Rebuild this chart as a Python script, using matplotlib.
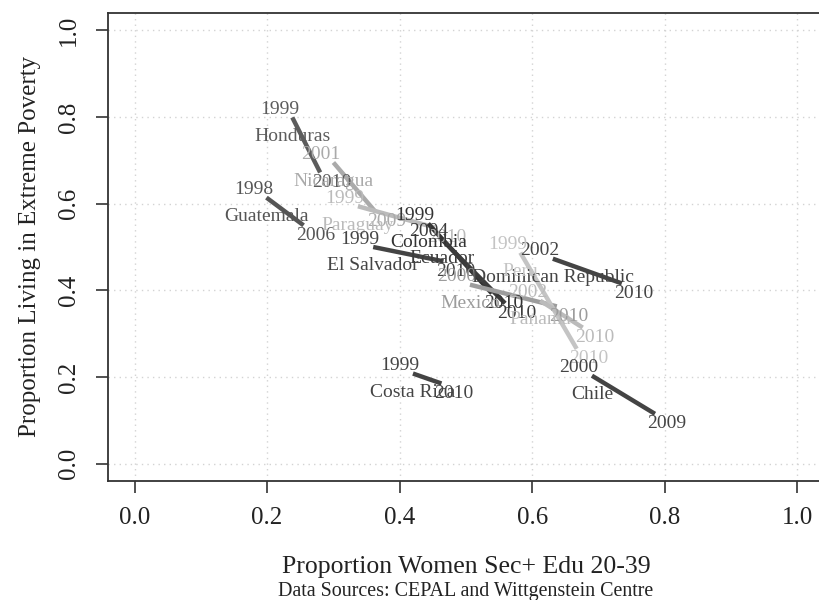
import matplotlib
matplotlib.use("Agg")
import matplotlib.pyplot as plt

# start / end points per country
countries = ["Honduras", "Guatemala", "Nicaragua", "Paraguay", "Colombia",
             "Ecuador", "El Salvador", "Mexico", "Dominican Republic", "Peru",
             "Panama", "Costa Rica", "Chile"]
year_start = [1999, 1998, 2001, 1999, 1999, 2004, 1999, 2000, 2002, 1999, 2002, 1999, 2000]
year_end = [2010, 2006, 2009, 2010, 2010, 2010, 2010, 2010, 2010, 2010, 2010, 2010, 2009]
x_start = [0.238, 0.199, 0.300, 0.337, 0.443, 0.464, 0.360, 0.506, 0.631, 0.582, 0.612, 0.420, 0.690]
y_start = [0.799, 0.614, 0.695, 0.594, 0.554, 0.517, 0.500, 0.413, 0.473, 0.487, 0.376, 0.208, 0.203]
x_end = [0.280, 0.255, 0.363, 0.453, 0.539, 0.559, 0.466, 0.637, 0.735, 0.667, 0.676, 0.463, 0.785]
y_end = [0.672, 0.550, 0.582, 0.545, 0.393, 0.370, 0.467, 0.363, 0.416, 0.265, 0.314, 0.185, 0.115]
shades = ["#5c5c5c", "#555555", "#aaaaaa", "#bbbbbb", "#333333",
          "#3c3c3c", "#444444", "#9c9c9c", "#444444", "#c4c4c4",
          "#bbbbbb", "#444444", "#444444"]

plt.rcParams['font.family'] = ['Liberation Serif', 'DejaVu Serif']

fig = plt.figure(figsize=(8.19, 6.0), dpi=100)
ax = fig.add_axes([108 / 819, 1 - 481 / 600, 716 / 819, 468 / 600])

for i in range(len(countries)):
    c = shades[i]
    ax.plot([x_start[i], x_end[i]], [y_start[i], y_end[i]], color=c, lw=3.2,
            solid_capstyle='butt', zorder=2)
    ax.annotate(str(year_start[i]), (x_start[i], y_start[i]), xytext=(-13, 8),
                textcoords='offset pixels', ha='center', va='center',
                fontsize=14, color=c, zorder=3)
    ax.annotate(countries[i], (x_start[i], y_start[i]), xytext=(0, -19),
                textcoords='offset pixels', ha='center', va='center',
                fontsize=14, color=c, zorder=3)
    ax.annotate(str(year_end[i]), (x_end[i], y_end[i]), xytext=(12, -10),
                textcoords='offset pixels', ha='center', va='center',
                fontsize=14, color=c, zorder=3)

ticks = [0.0, 0.2, 0.4, 0.6, 0.8, 1.0]
ax.set_xlim(-0.04, 1.04)
ax.set_ylim(-0.04, 1.04)
ax.set_xticks(ticks)
ax.set_yticks(ticks)
ax.set_xticklabels(["%.1f" % t for t in ticks])
ax.set_yticklabels(["%.1f" % t for t in ticks], rotation=90, va='center')
ax.grid(True, color='#d3d3d3', linestyle=(0, (1, 3)), lw=1)
ax.set_axisbelow(True)
ax.tick_params(direction='out', length=8.5, width=1.2, color='#333333',
               labelsize=18, labelcolor='#222222')
ax.tick_params(axis='x', pad=10)
ax.tick_params(axis='y', pad=12)
for s in ax.spines.values():
    s.set_color('#333333')
    s.set_linewidth(1.3)

fig.text(466 / 819, 1 - 573 / 600, "Proportion Women Sec+ Edu 20-39",
         ha='center', va='baseline', fontsize=18.5, color='#222222')
fig.text(466 / 819, 1 - 596 / 600, "Data Sources: CEPAL and Wittgenstein Centre",
         ha='center', va='baseline', fontsize=14.4, color='#222222')
fig.text(30 / 819, 1 - 246 / 600, "Proportion Living in Extreme Poverty",
         ha='center', va='center', rotation=90, fontsize=18, color='#222222')

fig.savefig("out.png", dpi=100)
